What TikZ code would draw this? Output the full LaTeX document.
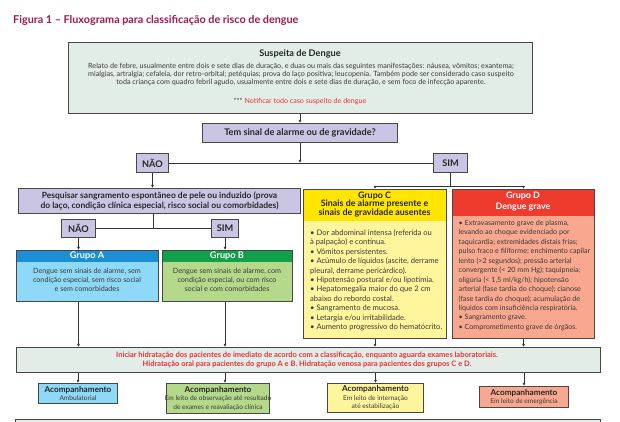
\documentclass[tikz,border=0pt]{standalone}
\usepackage{fontspec}
\setmainfont{Lato}
\usetikzlibrary{arrows.meta,calc}
\definecolor{titlec}{HTML}{9E1A50}
\definecolor{greyf}{HTML}{E3EDE7}
\definecolor{lav}{HTML}{CBC5E4}
\definecolor{redt}{HTML}{E8303A}
\definecolor{txt}{HTML}{3A3A3A}
\definecolor{ahead}{HTML}{1C8FD4}
\definecolor{abody}{HTML}{8ED8F8}
\definecolor{bhead}{HTML}{10A04A}
\definecolor{bbody}{HTML}{B5D98A}
\definecolor{chead}{HTML}{FFE500}
\definecolor{cbody}{HTML}{FFF59D}
\definecolor{dhead}{HTML}{EF3B2D}
\definecolor{dbody}{HTML}{F8A88E}
\newcommand\myfs[2]{\fontsize{#1}{#2}\selectfont}
\tikzset{
  boxline/.style={draw=black!72, line width=1pt},
  greybox/.style={boxline, fill=greyf, inner sep=0pt, anchor=north west},
  lavbox/.style={boxline, fill=lav, inner sep=0pt, anchor=north west},
  grp/.style n args={3}{boxline, fill=#2, inner sep=0pt, anchor=north west,
     path picture={\fill[#1] (path picture bounding box.north west) rectangle ([yshift=-#3]path picture bounding box.north east);}},
  conn/.style={draw=black!80, line width=0.7pt},
  arr/.style={conn, -{Latex[length=3.2pt,width=3.2pt]}},
  lbl/.style={font=\bfseries\myfs{9.2}{10}, text=black!85, inner sep=0pt},
  small/.style={font=\myfs{7.2}{7.7}, text=txt, inner sep=0pt, align=center},
  listtxt/.style={font=\myfs{7.6}{9.4}, text=txt, inner sep=0pt, align=left, anchor=north west},
  acomp/.style={boxline, anchor=north west, inner sep=0pt},
}
\begin{document}
\begin{tikzpicture}[x=1pt,y=-1pt]
\useasboundingbox (0,0) rectangle (620,422);
\fill[white] (0,0) rectangle (620,422);
% title
\node[anchor=west, inner sep=0pt, text=titlec, font=\bfseries\myfs{10.8}{12}] (title) at (13,20) {Figura 1 – Fluxograma para classificação de risco de dengue};
% suspeita
\node[greybox, minimum width=464pt, minimum height=71pt] (susp) at (68,42) {};
\node[lbl, font=\bfseries\myfs{9.2}{10}] (suspt) at (300,54) {Suspeita de Dengue};
\node[small] (suspb) at (301,74.5) {Relato de febre, usualmente entre dois e sete dias de duração, e duas ou mais das seguintes manifestações: náusea, vômitos; exantema;\\
mialgias, artralgia; cefaleia, dor retro-orbital; petéquias; prova do laço positiva; leucopenia. Também pode ser considerado caso suspeito\\
toda criança com quadro febril agudo, usualmente entre dois e sete dias de duração, e sem foco de infecção aparente.};
\node[small, text=redt, font=\myfs{7.1}{8}] (notif) at (300,101) {{\color{txt}***} Notificar todo caso suspeito de dengue};
% decision 1
\node[lavbox, minimum width=195pt, minimum height=19pt] (tem) at (202,123) {};
\node[lbl] at (tem.center) {Tem sinal de alarme ou de gravidade?};
\node[lavbox, minimum width=32pt, minimum height=19pt] (nao1) at (136,153) {};
\node[lbl] at (nao1.center) {NÃO};
\node[lavbox, minimum width=34pt, minimum height=19pt] (sim1) at (433,153) {};
\node[lbl] at (sim1.center) {SIM};
% pesquisar
\node[lavbox, minimum width=282pt, minimum height=25pt] (pesq) at (18,188) {};
\node[lbl, align=center, font=\bfseries\myfs{8.5}{10}] at (pesq.center) {Pesquisar sangramento espontâneo de pele ou induzido (prova\\do laço, condição clínica especial, risco social ou comorbidades)};
\node[lavbox, minimum width=34pt, minimum height=18pt] (nao2) at (61,219) {};
\node[lbl] at (nao2.center) {NÃO};
\node[lavbox, minimum width=27pt, minimum height=18pt] (sim2) at (211,219) {};
\node[lbl] at (sim2.center) {SIM};
\coordinate (pmid) at ($(nao2.east)!0.5!(sim2.west)$);
% groups
\node[grp={ahead}{abody}{11pt}, minimum width=142pt, minimum height=51pt] (ga) at (16,250) {};
\node[lbl, text=white] at (87,255.5) {Grupo A};
\node[small, font=\myfs{7.2}{9}] at (87,280) {Dengue sem sinais de alarme, sem\\condição especial, sem risco social\\e sem comorbidades};
\node[grp={bhead}{bbody}{11pt}, minimum width=130pt, minimum height=51pt] (gb) at (162,250) {};
\node[lbl, text=white] at (227,255.5) {Grupo B};
\node[small, font=\myfs{7.2}{9}] at (227,280) {Dengue sem sinais de alarme, com\\condição especial, ou com risco\\social e com comorbidades};
\node[grp={chead}{cbody}{31pt}, minimum width=143pt, minimum height=149pt] (gc) at (303,189) {};
\node[lbl, align=center, font=\bfseries\myfs{8.9}{8.6}] at (374.5,204.5) {Grupo C\\Sinais de alarme presente e\\sinais de gravidade ausentes};
\node[listtxt] at (310,229.5) {• Dor abdominal intensa (referida ou\\à palpação) e contínua.\\• Vômitos persistentes.\\• Acúmulo de líquidos (ascite, derrame\\pleural, derrame pericárdico).\\• Hipotensão postural e/ou lipotimia.\\• Hepatomegalia maior do que 2 cm\\abaixo do rebordo costal.\\• Sangramento de mucosa.\\• Letargia e/ou irritabilidade.\\• Aumento progressivo do hematócrito.};
\node[grp={dhead}{dbody}{26pt}, minimum width=142pt, minimum height=149pt] (gd) at (452,189) {};
\node[lbl, text=white, align=center, font=\bfseries\myfs{8.9}{11}] at (523,201.5) {Grupo D\\Dengue grave};
\node[listtxt, font=\myfs{7.15}{9.45}] at (458.5,220) {• Extravasamento grave de plasma,\\levando ao choque evidenciado por\\taquicardia; extremidades distais frias;\\pulso fraco e filiforme; enchimento capilar\\lento (>2 segundos); pressão arterial\\convergente (< 20 mm Hg); taquipneia;\\oligúria (< 1,5 ml/kg/h); hipotensão\\arterial (fase tardia do choque); cianose\\(fase tardia do choque); acumulação de\\líquidos com insuficiência respiratória.\\• Sangramento grave.\\• Comprometimento grave de órgãos.};
% hydration
\node[greybox, minimum width=584pt, minimum height=25pt] (hyd) at (16,347) {};
\node[small, text=redt, font=\bfseries\myfs{7.5}{9}] at (307,359.5) {Iniciar hidratação dos pacientes de imediato de acordo com a classificação, enquanto aguarda exames laboratoriais.\\Hidratação oral para pacientes do grupo A e B. Hidratação venosa para pacientes dos grupos C e D.};
% acompanhamento
\node[acomp, fill=abody, minimum width=79pt, minimum height=20pt] (aa) at (38,383) {};
\node[small, font=\myfs{6.6}{8.5}] at (aa.center) {{\bfseries\myfs{8.2}{8.5}\color{black!85}Acompanhamento}\\Ambulatorial};
\node[acomp, fill=bbody, minimum width=103pt, minimum height=30pt] (ab) at (166,383) {};
\node[small, font=\myfs{6.6}{8.5}] at (ab.center) {{\bfseries\myfs{8.2}{8.5}\color{black!85}Acompanhamento}\\Em leito de observação até resultado\\de exames e reavaliação clínica};
\node[acomp, fill=cbody, minimum width=96pt, minimum height=29pt] (ac) at (327,383) {};
\node[small, font=\myfs{6.6}{8.5}] at (ac.center) {{\bfseries\myfs{8.2}{8.5}\color{black!85}Acompanhamento}\\Em leito de internação\\até estabilização};
\node[acomp, fill=dbody, minimum width=89pt, minimum height=21pt] (ad) at (479,386) {};
\node[small, font=\myfs{6.6}{8.5}] at (ad.center) {{\bfseries\myfs{8.2}{8.5}\color{black!85}Acompanhamento}\\Em leito de emergência};
% next (cut) box
\node[greybox, minimum width=585pt, minimum height=20pt] (next) at (15,419) {};
% connectors
\draw[arr] (susp.south -| tem.north) -- (tem.north);
\draw[arr] (tem.south) -- (tem.south |- nao1.east);
\draw[conn] (nao1.east) -- (sim1.west);
\draw[arr] (nao1.south) -- (nao1.south |- pesq.north);
\draw[conn] (sim1.south) -- ++(0,13) coordinate (sj);
\draw[arr] (sj) -| (gc.north);
\draw[arr] (sj) -| (gd.north);
\draw[conn] (pesq.south -| pmid) -- (pmid);
\draw[conn] (nao2.east) -- (sim2.west);
\draw[arr] (nao2.south) -- (nao2.south |- ga.north);
\draw[arr] (sim2.south) -- (sim2.south |- gb.north);
\draw[arr] (nao2.south |- ga.south) -- (nao2.south |- hyd.north);
\draw[arr] (sim2.south |- gb.south) -- (sim2.south |- hyd.north);
\draw[arr] (gc.south) -- (gc.south |- hyd.north);
\draw[arr] (gd.south) -- (gd.south |- hyd.north);
\draw[arr] (hyd.south -| aa.north) -- (aa.north);
\draw[arr] (hyd.south -| sim2.south) -- (sim2.south |- ab.north);
\draw[arr] (hyd.south -| ac.north) -- (ac.north);
\draw[arr] (hyd.south -| ad.north) -- (ad.north);
\end{tikzpicture}
\end{document}
